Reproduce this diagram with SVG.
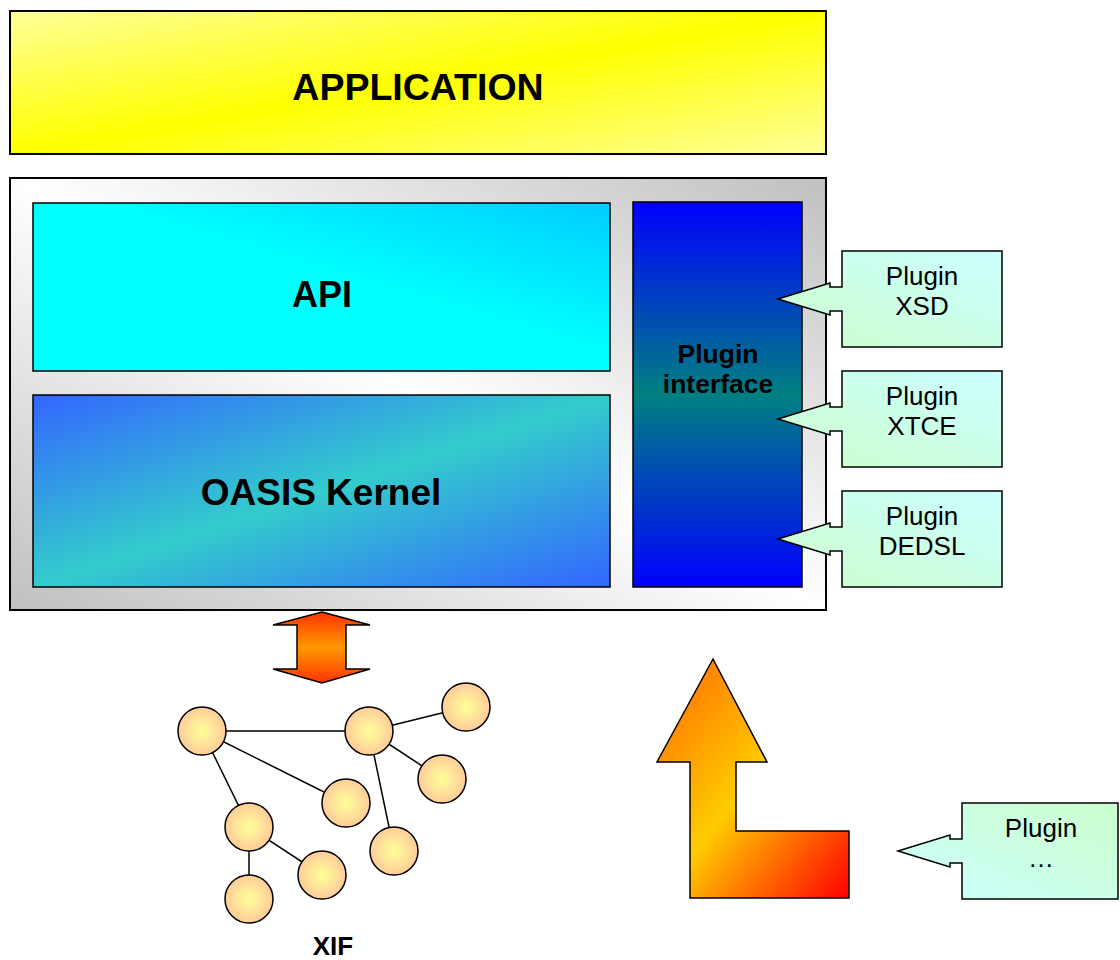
<svg xmlns="http://www.w3.org/2000/svg" width="1120" height="960" viewBox="0 0 1120 960">
<style>
.box{stroke:#000;stroke-width:2}
.inner{stroke:#000;stroke-width:1.5}
.bt{font-family:"Liberation Sans",Arial,sans-serif;font-weight:bold;text-anchor:middle;fill:#000}
.rt{font-family:"Liberation Sans",Arial,sans-serif;text-anchor:middle;fill:#000;font-size:26px}
.node{fill:url(#gNode);stroke:#000;stroke-width:1.5}
.edge{stroke:#000;stroke-width:1.5;fill:none}
.callout{stroke:#000;stroke-width:1.5}
</style>
<defs>
<linearGradient id="gApp" x1="0" y1="0" x2="1" y2="1"><stop offset="0" stop-color="#ffff99"/><stop offset="0.5" stop-color="#ffff00"/><stop offset="1" stop-color="#ffff99"/></linearGradient>
<linearGradient id="gOuter" x1="1" y1="0" x2="0" y2="1"><stop offset="0" stop-color="#c0c0c0"/><stop offset="0.5" stop-color="#ffffff"/><stop offset="1" stop-color="#c0c0c0"/></linearGradient>
<linearGradient id="gApi" x1="0" y1="1" x2="1" y2="0"><stop offset="0" stop-color="#00ffff"/><stop offset="0.55" stop-color="#00ffff"/><stop offset="1" stop-color="#00ccff"/></linearGradient>
<linearGradient id="gKernel" x1="0" y1="0" x2="1" y2="1"><stop offset="0" stop-color="#3366ff"/><stop offset="0.5" stop-color="#33cccc"/><stop offset="1" stop-color="#3366ff"/></linearGradient>
<linearGradient id="gPI" x1="0" y1="0" x2="0" y2="1"><stop offset="0" stop-color="#0000ff"/><stop offset="0.5" stop-color="#008080"/><stop offset="1" stop-color="#0000ff"/></linearGradient>
<linearGradient id="gCall" x1="1" y1="0" x2="0" y2="1"><stop offset="0" stop-color="#ccffff"/><stop offset="1" stop-color="#ccffcc"/></linearGradient>
<linearGradient id="gCall2" x1="1" y1="0" x2="0" y2="1"><stop offset="0" stop-color="#ccffcc"/><stop offset="1" stop-color="#ccffff"/></linearGradient>
<linearGradient id="gDbl" x1="0" y1="0" x2="0" y2="1"><stop offset="0" stop-color="#ff3300"/><stop offset="0.5" stop-color="#ff9900"/><stop offset="1" stop-color="#ff3300"/></linearGradient>
<linearGradient id="gL" x1="0" y1="0" x2="1" y2="1"><stop offset="0" stop-color="#ff6600"/><stop offset="0.5" stop-color="#ffcc00"/><stop offset="1" stop-color="#ff0000"/></linearGradient>
<radialGradient id="gNode" cx="0.5" cy="0.5" r="0.5"><stop offset="0" stop-color="#ffff99"/><stop offset="1" stop-color="#ffcc99"/></radialGradient>
</defs>

<g id="application">
<rect class="box" x="10" y="11" width="816" height="143" fill="url(#gApp)"/>
<text class="bt" x="418" y="100" font-size="37.5">APPLICATION</text>
</g>

<g id="framework">
<rect class="box" x="10" y="178" width="816" height="432" fill="url(#gOuter)"/>
</g>

<g id="api">
<rect class="inner" x="33" y="203" width="577" height="168" fill="url(#gApi)"/>
<text class="bt" x="322" y="307" font-size="36">API</text>
</g>

<g id="kernel">
<rect class="inner" x="33" y="395" width="577" height="192" fill="url(#gKernel)"/>
<text class="bt" x="321" y="505" font-size="37">OASIS Kernel</text>
</g>

<g id="plugin-interface">
<rect class="inner" x="633" y="202" width="169" height="385" fill="url(#gPI)"/>
<text class="bt" x="718" y="363" font-size="26.5">Plugin</text>
<text class="bt" x="718" y="393" font-size="26.5">interface</text>
</g>

<g id="plugin-xsd">
<path class="callout" fill="url(#gCall)" d="M842,251 H1002 V347 H842 V311 H830 V315 L778,299 L830,283 V287 H842 Z"/>
<text class="rt" x="922" y="285">Plugin</text>
<text class="rt" x="922" y="315">XSD</text>
</g>

<g id="plugin-xtce">
<path class="callout" fill="url(#gCall)" d="M842,371 H1002 V467 H842 V431 H830 V435 L778,419 L830,403 V407 H842 Z"/>
<text class="rt" x="922" y="405">Plugin</text>
<text class="rt" x="922" y="435">XTCE</text>
</g>

<g id="plugin-dedsl">
<path class="callout" fill="url(#gCall)" d="M842,491 H1002 V587 H842 V551 H830 V555 L778,539 L830,523 V527 H842 Z"/>
<text class="rt" x="922" y="525">Plugin</text>
<text class="rt" x="922" y="555">DEDSL</text>
</g>

<g id="plugin-more">
<path class="callout" fill="url(#gCall2)" d="M962,803 H1118 V899 H962 V863 H950 V867 L898,851 L950,835 V839 H962 Z"/>
<text class="rt" x="1041" y="837">Plugin</text>
<text class="rt" x="1041" y="867">…</text>
</g>

<g id="double-arrow">
<path class="inner" fill="url(#gDbl)" d="M322,612 L370,625 H346 V669 H370 L322,683 L273,669 H297 V625 H273 Z"/>
</g>

<g id="bent-arrow">
<path class="inner" fill="url(#gL)" d="M713,659 L767,762 H736 V831 H849 V898 H690 V762 H657 Z"/>
</g>

<g id="connectors">
<line class="edge" x1="202" y1="731" x2="369" y2="731"/>
<line class="edge" x1="369" y1="731" x2="466" y2="707"/>
<line class="edge" x1="369" y1="731" x2="442" y2="779"/>
<line class="edge" x1="369" y1="731" x2="394" y2="851"/>
<line class="edge" x1="202" y1="731" x2="346" y2="803"/>
<line class="edge" x1="202" y1="731" x2="249" y2="827"/>
<line class="edge" x1="249" y1="827" x2="322" y2="875"/>
<line class="edge" x1="249" y1="827" x2="249" y2="899"/>
</g>

<g id="xif-graph">
<g id="n1"><circle class="node" cx="202" cy="731" r="24"/></g>
<g id="n2"><circle class="node" cx="369" cy="731" r="24"/></g>
<g id="n3"><circle class="node" cx="466" cy="707" r="24"/></g>
<g id="n4"><circle class="node" cx="442" cy="779" r="24"/></g>
<g id="n5"><circle class="node" cx="346" cy="803" r="24"/></g>
<g id="n6"><circle class="node" cx="249" cy="827" r="24"/></g>
<g id="n7"><circle class="node" cx="322" cy="875" r="24"/></g>
<g id="n8"><circle class="node" cx="394" cy="851" r="24"/></g>
<g id="n9"><circle class="node" cx="249" cy="899" r="24"/></g>
<text class="bt" x="333" y="955" font-size="26">XIF</text>
</g>
</svg>
